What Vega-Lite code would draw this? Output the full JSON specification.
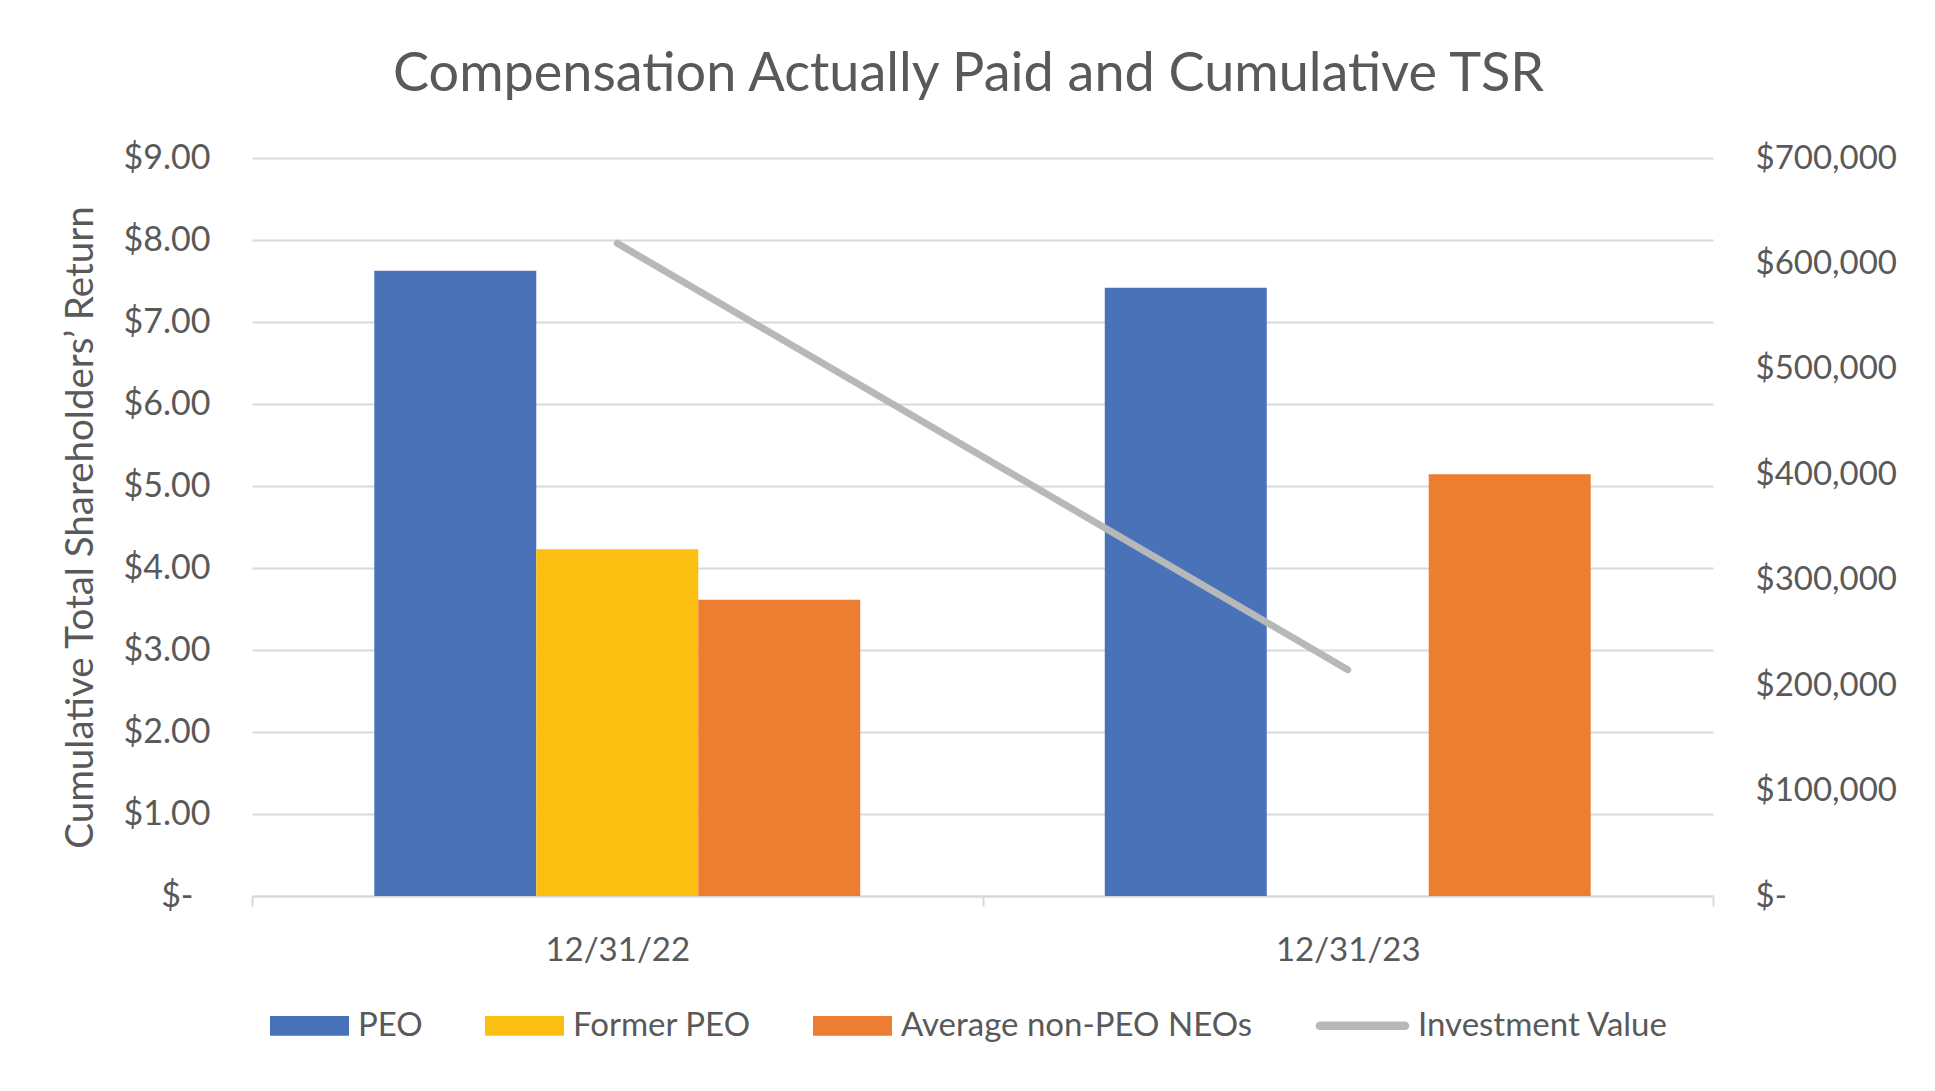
{
  "$schema": "https://vega.github.io/schema/vega-lite/v6.json",
  "width": 1461,
  "height": 738,
  "autosize": {"type": "none"},
  "padding": {"left": 252, "top": 158, "right": 222, "bottom": 195},
  "background": "white",
  "config": {
    "font": "Lato",
    "view": {"stroke": null},
    "axis": {"labelColor": "#595959", "titleColor": "#595959", "labelFont": "Lato", "titleFont": "Lato"}
  },
  "title": {
    "text": "Compensation Actually Paid and Cumulative TSR",
    "fontSize": 54,
    "font": "Lato",
    "fontWeight": "normal",
    "color": "#595959",
    "anchor": "middle",
    "offset": 39,
    "dx": -14
  },
  "datasets": {
    "comp": [
      {"date": "12/31/22", "group": "PEO", "value": 593000},
      {"date": "12/31/22", "group": "Former PEO", "value": 329000},
      {"date": "12/31/22", "group": "Average non-PEO NEOs", "value": 281000},
      {"date": "12/31/23", "group": "PEO", "value": 577000},
      {"date": "12/31/23", "group": "Average non-PEO NEOs", "value": 400000}
    ],
    "tsr": [
      {"date": "12/31/22", "tsr": 7.96},
      {"date": "12/31/23", "tsr": 2.76}
    ]
  },
  "layer": [
    {
      "data": {"name": "comp"},
      "mark": {"type": "bar"},
      "encoding": {
        "x": {
          "field": "date",
          "type": "nominal",
          "scale": {"domain": ["12/31/22", "12/31/23"], "paddingInner": 0, "paddingOuter": 0},
          "axis": {
            "title": null,
            "labelAngle": 0,
            "labelFontSize": 33,
            "labelPadding": 28,
            "tickBand": "extent",
            "tickSize": 10,
            "tickColor": "#d9d9d9",
            "tickWidth": 2,
            "domainColor": "#d9d9d9",
            "domainWidth": 2,
            "grid": false
          }
        },
        "xOffset": {
          "field": "group",
          "type": "nominal",
          "scale": {"domain": ["PEO", "Former PEO", "Average non-PEO NEOs"], "paddingInner": 0, "paddingOuter": 0.755}
        },
        "y": {
          "field": "value",
          "type": "quantitative",
          "scale": {"domain": [0, 700000], "nice": false},
          "axis": {
            "orient": "right",
            "title": null,
            "values": [0, 100000, 200000, 300000, 400000, 500000, 600000, 700000],
            "labelExpr": "datum.value === 0 ? '$-' : '$' + format(datum.value, ',')",
            "grid": false,
            "domain": false,
            "ticks": false,
            "tickSize": 0,
            "labelPadding": 42,
            "labelFontSize": 33
          }
        },
        "color": {
          "field": "group",
          "type": "nominal",
          "scale": {
            "domain": ["PEO", "Former PEO", "Average non-PEO NEOs", "Investment Value"],
            "range": ["#4a72b8", "#fbbf12", "#ed7d31", "#b7b8ba"]
          },
          "legend": {
            "orient": "none",
            "legendX": 18,
            "legendY": 828,
            "direction": "horizontal",
            "title": null,
            "padding": 0,
            "symbolSize": 6241,
            "symbolType": "M-1,-0.25H1V0.25H-1Z",
            "symbolStrokeWidth": 0,
            "labelFontSize": 33,
            "labelColor": "#595959",
            "labelFont": "Lato",
            "labelOffset": 9,
            "columnPadding": 62,
            "labelLimit": 1000,
            "encode": {
              "symbols": {
                "update": {
                  "shape": {"signal": "datum.value === 'Investment Value' ? 'M-0.95,-0.11H1.2A0.11,0.11,0,0,1,1.2,0.11H-0.95A0.11,0.11,0,0,1,-0.95,-0.11Z' : 'M-1,-0.25H1V0.25H-1Z'"},
                  "fill": {"signal": "scale('color', datum.value)"},
                  "stroke": {"value": "transparent"},
                  "opacity": {"value": 1}
                }
              },
              "labels": {
                "update": {
                  "dx": {"signal": "datum.value === 'Investment Value' ? 12 : 0"}
                }
              }
            }
          }
        }
      }
    },
    {
      "data": {"name": "tsr"},
      "mark": {"type": "line", "strokeWidth": 7, "strokeCap": "round"},
      "encoding": {
        "x": {"field": "date", "type": "nominal"},
        "y": {
          "field": "tsr",
          "type": "quantitative",
          "scale": {"domain": [0, 9], "nice": false},
          "axis": {
            "orient": "left",
            "title": "Cumulative Total Shareholders’ Return",
            "titleFontSize": 38.5,
            "titleFontWeight": "normal",
            "titleX": -172,
            "titleY": 369,
            "titleAngle": -90,
            "titleBaseline": "middle",
            "values": [0, 1, 2, 3, 4, 5, 6, 7, 8, 9],
            "labelExpr": "datum.value === 0 ? '$-' : '$' + format(datum.value, '.2f')",
            "grid": true,
            "gridColor": "#d9d9d9",
            "gridWidth": 2,
            "domain": false,
            "ticks": false,
            "tickSize": 0,
            "labelPadding": {"condition": {"test": "datum.value === 0", "value": 59}, "value": 42},
            "labelFontSize": 34
          }
        },
        "color": {"datum": "Investment Value", "type": "nominal"}
      }
    }
  ],
  "resolve": {"scale": {"y": "independent"}, "axis": {"y": "independent"}}
}
